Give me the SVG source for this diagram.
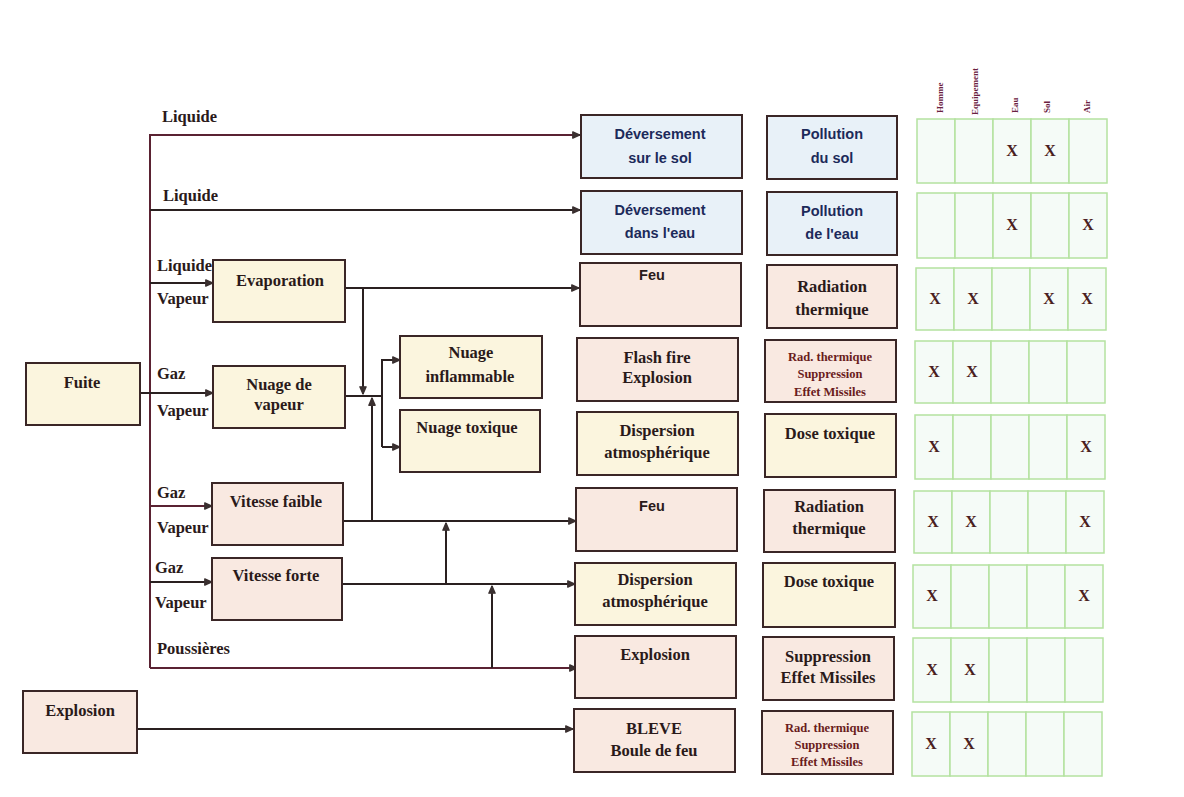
<svg xmlns="http://www.w3.org/2000/svg" width="1184" height="797" viewBox="0 0 1184 797">
<style>
.bx{stroke:#3a2626;stroke-width:2}
.blue{fill:#e8f1f8}
.cream{fill:#fbf5de}
.pink{fill:#f9e9e1}
.t{font-family:"Liberation Serif",serif;font-weight:bold;font-size:16.5px;fill:#2a1a1a;text-anchor:middle}
.ts{font-family:"Liberation Sans",sans-serif;font-weight:bold;font-size:14.5px;text-anchor:middle}
.sm{font-family:"Liberation Serif",serif;font-weight:bold;font-size:12.5px;fill:#6a1c1c;text-anchor:middle}
.lb{font-family:"Liberation Serif",serif;font-weight:bold;font-size:16.5px;fill:#2a1a1a}
.ln{fill:none;stroke:#2a2020;stroke-width:2}
.lr{fill:none;stroke:#5a2232;stroke-width:2}
.g{fill:#f5fbf7;stroke:#b4e2a0;stroke-width:1.5}
.x{font-family:"Liberation Serif",serif;font-weight:bold;font-size:16px;fill:#4a2020;text-anchor:middle}
.h{font-family:"Liberation Serif",serif;font-weight:bold;font-size:9px;fill:#6a2040}
</style>
<defs>
<marker id="a" viewBox="0 0 10 10" refX="9" refY="5" markerWidth="9" markerHeight="9" markerUnits="userSpaceOnUse" orient="auto">
<path d="M1,1.5 L9,5 L1,8.5 Z" fill="#3a3030" stroke="#3a3030" stroke-width="1.5" stroke-linejoin="round"/>
</marker>
</defs>
<rect width="1184" height="797" fill="#ffffff"/>

<g id="connectors">
<path class="lr" d="M150,668 V135 H580" marker-end="url(#a)"/>
<path class="ln" d="M150,210 H580" marker-end="url(#a)"/>
<path class="ln" d="M150,283 H213" marker-end="url(#a)"/>
<path class="ln" d="M140,393 H213" marker-end="url(#a)"/>
<path class="lr" d="M150,506 H212" marker-end="url(#a)"/>
<path class="ln" d="M150,582 H212" marker-end="url(#a)"/>
<path class="lr" d="M150,668 H577" marker-end="url(#a)"/>
<path class="ln" d="M137,729 H573" marker-end="url(#a)"/>
<path class="ln" d="M345,288 H579" marker-end="url(#a)"/>
<path class="ln" d="M363,288 V394" marker-end="url(#a)"/>
<path class="ln" d="M345,396 H382"/>
<path class="ln" d="M382,447 V360 H400" marker-end="url(#a)"/>
<path class="ln" d="M382,447 H400" marker-end="url(#a)"/>
<path class="ln" d="M372,521 V398" marker-end="url(#a)"/>
<path class="ln" d="M343,521 H576" marker-end="url(#a)"/>
<path class="ln" d="M446,584 V523" marker-end="url(#a)"/>
<path class="ln" d="M342,584 H575" marker-end="url(#a)"/>
<path class="ln" d="M492,668 V586" marker-end="url(#a)"/>
</g>

<g id="labels">
<text class="lb" x="162" y="122">Liquide</text>
<text class="lb" x="163" y="201">Liquide</text>
<text class="lb" x="157" y="271">Liquide</text>
<text class="lb" x="157" y="304">Vapeur</text>
<text class="lb" x="157" y="379">Gaz</text>
<text class="lb" x="157" y="416">Vapeur</text>
<text class="lb" x="157" y="498">Gaz</text>
<text class="lb" x="157" y="533">Vapeur</text>
<text class="lb" x="155" y="573">Gaz</text>
<text class="lb" x="155" y="608">Vapeur</text>
<text class="lb" x="157" y="654">Poussières</text>
</g>

<g id="fuite"><rect class="bx cream" x="26" y="363" width="114" height="62"/><text class="t" x="82" y="388">Fuite</text></g>
<g id="explosion-src"><rect class="bx pink" x="23" y="691" width="114" height="62"/><text class="t" x="80" y="716">Explosion</text></g>
<g id="evaporation"><rect class="bx cream" x="213" y="260" width="132" height="62"/><text class="t" x="280" y="286">Evaporation</text></g>
<g id="nuage-vapeur"><rect class="bx cream" x="213" y="366" width="132" height="62"/><text class="t" x="279" y="390">Nuage de</text><text class="t" x="279" y="410">vapeur</text></g>
<g id="vitesse-faible"><rect class="bx pink" x="212" y="483" width="131" height="62"/><text class="t" x="276" y="507">Vitesse faible</text></g>
<g id="vitesse-forte"><rect class="bx pink" x="212" y="558" width="130" height="62"/><text class="t" x="276" y="581">Vitesse forte</text></g>
<g id="nuage-inflammable"><rect class="bx cream" x="400" y="336" width="142" height="62"/><text class="t" x="471" y="358">Nuage</text><text class="t" x="470" y="382">inflammable</text></g>
<g id="nuage-toxique"><rect class="bx cream" x="400" y="410" width="140" height="62"/><text class="t" x="467" y="433">Nuage toxique</text></g>

<g id="deversement-sol"><rect class="bx blue" x="581" y="115" width="161" height="63"/><text class="ts" x="660" y="139" fill="#1c2a5a">Déversement</text><text class="ts" x="660" y="163" fill="#1c2a5a">sur le sol</text></g>
<g id="deversement-eau"><rect class="bx blue" x="581" y="191" width="161" height="63"/><text class="ts" x="660" y="215" fill="#1c2a5a">Déversement</text><text class="ts" x="660" y="238" fill="#1c2a5a">dans l'eau</text></g>
<g id="feu1"><rect class="bx pink" x="580" y="263" width="161" height="63"/><text class="ts" x="652" y="280" fill="#2a1a1a">Feu</text></g>
<g id="flash-fire"><rect class="bx pink" x="577" y="338" width="161" height="63"/><text class="t" x="657" y="363" fill="#4a1414">Flash fire</text><text class="t" x="657" y="383" fill="#4a1414">Explosion</text></g>
<g id="dispersion1"><rect class="bx cream" x="577" y="412" width="161" height="63"/><text class="t" x="657" y="436">Dispersion</text><text class="t" x="657" y="458">atmosphérique</text></g>
<g id="feu2"><rect class="bx pink" x="576" y="488" width="161" height="63"/><text class="ts" x="652" y="511" fill="#2a1a1a">Feu</text></g>
<g id="dispersion2"><rect class="bx cream" x="575" y="563" width="161" height="62"/><text class="t" x="655" y="585">Dispersion</text><text class="t" x="655" y="607">atmosphérique</text></g>
<g id="explosion"><rect class="bx pink" x="575" y="636" width="161" height="62"/><text class="t" x="655" y="660">Explosion</text></g>
<g id="bleve"><rect class="bx pink" x="574" y="709" width="161" height="63"/><text class="t" x="654" y="734" fill="#4a1414">BLEVE</text><text class="t" x="654" y="756" fill="#4a1414">Boule de feu</text></g>

<g id="pollution-sol"><rect class="bx blue" x="767" y="116" width="130" height="63"/><text class="ts" x="832" y="139" fill="#1c2a5a">Pollution</text><text class="ts" x="832" y="163" fill="#1c2a5a">du sol</text></g>
<g id="pollution-eau"><rect class="bx blue" x="767" y="192" width="130" height="63"/><text class="ts" x="832" y="216" fill="#1c2a5a">Pollution</text><text class="ts" x="832" y="239" fill="#1c2a5a">de l'eau</text></g>
<g id="radiation1"><rect class="bx pink" x="767" y="265" width="130" height="63"/><text class="t" x="832" y="292">Radiation</text><text class="t" x="832" y="315">thermique</text></g>
<g id="rad-supp1"><rect class="bx pink" x="765" y="340" width="131" height="62"/><text class="sm" x="830" y="361">Rad. thermique</text><text class="sm" x="830" y="378">Suppression</text><text class="sm" x="830" y="396">Effet Missiles</text></g>
<g id="dose1"><rect class="bx cream" x="765" y="414" width="131" height="63"/><text class="t" x="830" y="439">Dose toxique</text></g>
<g id="radiation2"><rect class="bx pink" x="764" y="490" width="131" height="62"/><text class="t" x="829" y="512">Radiation</text><text class="t" x="829" y="534">thermique</text></g>
<g id="dose2"><rect class="bx cream" x="763" y="563" width="132" height="64"/><text class="t" x="829" y="587">Dose toxique</text></g>
<g id="suppression"><rect class="bx pink" x="763" y="637" width="131" height="63"/><text class="t" x="828" y="662" fill="#4a1414">Suppression</text><text class="t" x="828" y="683" fill="#4a1414">Effet Missiles</text></g>
<g id="rad-supp2"><rect class="bx pink" x="762" y="711" width="131" height="63"/><text class="sm" x="827" y="732">Rad. thermique</text><text class="sm" x="827" y="749">Suppression</text><text class="sm" x="827" y="766">Effet Missiles</text></g>

<g id="headers">
<text class="h" transform="translate(943,113) rotate(-90)">Homme</text>
<text class="h" transform="translate(978,115) rotate(-90)">Equipement</text>
<text class="h" transform="translate(1018,113) rotate(-90)">Eau</text>
<text class="h" transform="translate(1050,113) rotate(-90)">Sol</text>
<text class="h" transform="translate(1090,113) rotate(-90)">Air</text>
</g>

<g id="grid">
<g transform="translate(917,119)"><rect class="g" width="38" height="64"/><rect class="g" x="38" width="38" height="64"/><rect class="g" x="76" width="38" height="64"/><rect class="g" x="114" width="38" height="64"/><rect class="g" x="152" width="38" height="64"/><text class="x" x="95" y="37">X</text><text class="x" x="133" y="37">X</text></g>
<g transform="translate(917,193)"><rect class="g" width="38" height="65"/><rect class="g" x="38" width="38" height="65"/><rect class="g" x="76" width="38" height="65"/><rect class="g" x="114" width="38" height="65"/><rect class="g" x="152" width="38" height="65"/><text class="x" x="95" y="37">X</text><text class="x" x="171" y="37">X</text></g>
<g transform="translate(916,268)"><rect class="g" width="38" height="62"/><rect class="g" x="38" width="38" height="62"/><rect class="g" x="76" width="38" height="62"/><rect class="g" x="114" width="38" height="62"/><rect class="g" x="152" width="38" height="62"/><text class="x" x="19" y="36">X</text><text class="x" x="57" y="36">X</text><text class="x" x="133" y="36">X</text><text class="x" x="171" y="36">X</text></g>
<g transform="translate(915,341)"><rect class="g" width="38" height="62"/><rect class="g" x="38" width="38" height="62"/><rect class="g" x="76" width="38" height="62"/><rect class="g" x="114" width="38" height="62"/><rect class="g" x="152" width="38" height="62"/><text class="x" x="19" y="36">X</text><text class="x" x="57" y="36">X</text></g>
<g transform="translate(915,415)"><rect class="g" width="38" height="64"/><rect class="g" x="38" width="38" height="64"/><rect class="g" x="76" width="38" height="64"/><rect class="g" x="114" width="38" height="64"/><rect class="g" x="152" width="38" height="64"/><text class="x" x="19" y="37">X</text><text class="x" x="171" y="37">X</text></g>
<g transform="translate(914,491)"><rect class="g" width="38" height="62"/><rect class="g" x="38" width="38" height="62"/><rect class="g" x="76" width="38" height="62"/><rect class="g" x="114" width="38" height="62"/><rect class="g" x="152" width="38" height="62"/><text class="x" x="19" y="36">X</text><text class="x" x="57" y="36">X</text><text class="x" x="171" y="36">X</text></g>
<g transform="translate(913,565)"><rect class="g" width="38" height="63"/><rect class="g" x="38" width="38" height="63"/><rect class="g" x="76" width="38" height="63"/><rect class="g" x="114" width="38" height="63"/><rect class="g" x="152" width="38" height="63"/><text class="x" x="19" y="36">X</text><text class="x" x="171" y="36">X</text></g>
<g transform="translate(913,638)"><rect class="g" width="38" height="64"/><rect class="g" x="38" width="38" height="64"/><rect class="g" x="76" width="38" height="64"/><rect class="g" x="114" width="38" height="64"/><rect class="g" x="152" width="38" height="64"/><text class="x" x="19" y="37">X</text><text class="x" x="57" y="37">X</text></g>
<g transform="translate(912,712)"><rect class="g" width="38" height="64"/><rect class="g" x="38" width="38" height="64"/><rect class="g" x="76" width="38" height="64"/><rect class="g" x="114" width="38" height="64"/><rect class="g" x="152" width="38" height="64"/><text class="x" x="19" y="37">X</text><text class="x" x="57" y="37">X</text></g>
</g>
</svg>
